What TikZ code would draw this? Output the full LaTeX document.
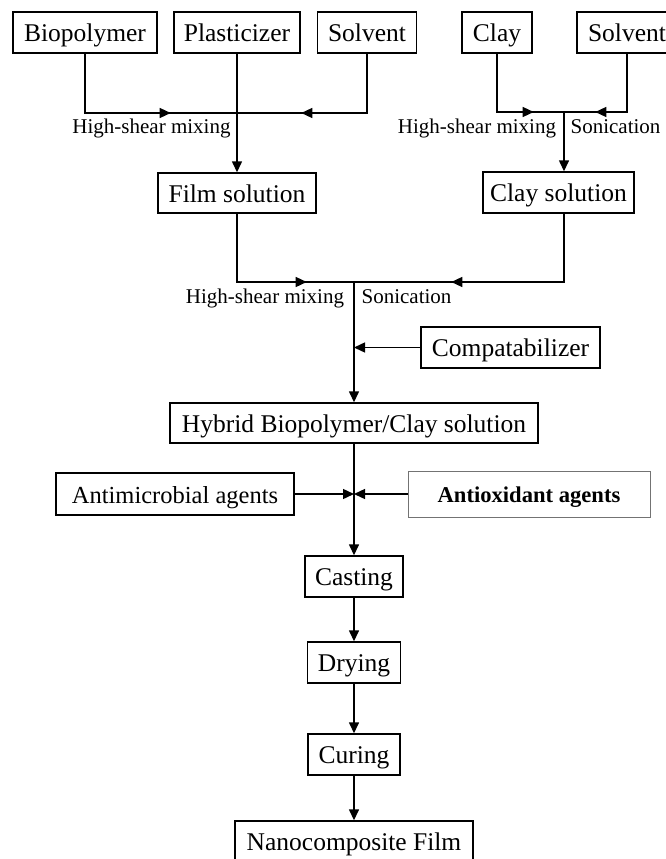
\documentclass[tikz,border=0pt]{standalone}
\usepackage{fontspec}
\setmainfont{Liberation Serif}
\usetikzlibrary{arrows.meta,decorations.markings}
\begin{document}
\begin{tikzpicture}[x=1pt,y=-1pt,
  box/.style={draw=black,line width=1.4pt,inner sep=0pt,align=center,
    text height=18pt,text depth=0pt,
    font=\fontsize{25.5}{30}\selectfont},
  lab/.style={inner sep=0pt,text height=14pt,text depth=4pt,font=\fontsize{21}{25}\selectfont},
  conn/.style={line width=1.4pt},
  arr/.style={line width=1.4pt,-{Triangle[length=11pt,width=10pt]}},
  midarr/.style={line width=1.4pt,postaction={decorate,decoration={markings,
    mark=at position #1 with {\arrow{Triangle[length=11pt,width=10pt]}}}}}]
\useasboundingbox (0,0) rectangle (666,859);
\clip (0,0) rectangle (666,859);
% top boxes
\node[box,minimum width=144pt,minimum height=41pt] (bio) at (85,32.5) {Biopolymer};
\node[box,minimum width=126pt,minimum height=41pt] (plast) at (237,32.5) {Plasticizer};
\node[box,minimum width=99pt,minimum height=41pt] (solv) at (367,32.5) {Solvent};
\node[box,minimum width=70pt,minimum height=41pt] (clay) at (497,32.5) {Clay};
\node[box,minimum width=100pt,minimum height=41pt] (solvb) at (627,32.5) {Solvent};
% junctions
\coordinate (j1) at (237,113);
\coordinate (j2) at (564,112);
\coordinate (j3) at (354,282);
% second row
\node[box,minimum width=158pt,minimum height=40pt] (film) at (237,193) {Film solution};
\node[box,minimum width=151pt,minimum height=41pt] (clsol) at (558.5,192.5) {Clay solution};
% labels
\node[lab] (l1) at (151.5,128) {High-shear mixing};
\node[lab] (l2) at (477,128) {High-shear mixing};
\node[lab] (l3) at (615.5,128) {Sonication};
\node[lab] (l4) at (265,298) {High-shear mixing};
\node[lab] (l5) at (406.5,298) {Sonication};
% middle
\node[box,minimum width=179pt,minimum height=41pt] (compat) at (510.5,347.5) {Compatabilizer};
\node[box,minimum width=368pt,minimum height=40pt] (hybrid) at (354,423) {Hybrid Biopolymer/Clay solution};
\node[box,minimum width=238pt,minimum height=42pt,font=\fontsize{24.5}{29}\selectfont] (antimic) at (175,494) {Antimicrobial agents};
\node[box,draw=black!55,line width=0.8pt,minimum width=242pt,minimum height=46pt,text height=16pt,font=\fontsize{22.6}{27}\selectfont\bfseries] (antiox) at (529,494) {Antioxidant agents};
% lower chain
\node[box,minimum width=98pt,minimum height=41pt] (cast) at (354,576.5) {Casting};
\node[box,minimum width=93pt,minimum height=41pt] (dry) at (354,662.5) {Drying};
\node[box,minimum width=92pt,minimum height=41pt] (cure) at (354,754.5) {Curing};
\node[box,minimum width=238pt,minimum height=41pt] (nano) at (354,841.5) {Nanocomposite Film};
% connectors: top left group
\draw[midarr=145pt] (bio.south) |- (j1);
\draw[midarr=125pt] (solv.south) |- (j1);
\draw[arr] (plast.south) -- (film.north);
% top right group
\draw[midarr=95pt] (clay.south) |- (j2);
\draw[midarr=90pt] (solvb.south) |- (j2);
\draw[arr] (j2) -- (j2 |- clsol.north);
% merge
\draw[midarr=138pt] (film.south) |- (j3);
\draw[midarr=181pt] (j2 |- clsol.south) |- (j3);
\draw[arr] (j3) -- (hybrid.north);
\draw[arr] (compat.west) -- (compat.west -| j3);
% lower
\draw[arr] (hybrid.south) -- (cast.north);
\draw[arr] (antimic.east) -- (antimic.east -| j3);
\draw[arr] (antiox.west) -- (antiox.west -| j3);
\draw[arr] (cast.south) -- (dry.north);
\draw[arr] (dry.south) -- (cure.north);
\draw[arr] (cure.south) -- (nano.north);
\end{tikzpicture}
\end{document}
